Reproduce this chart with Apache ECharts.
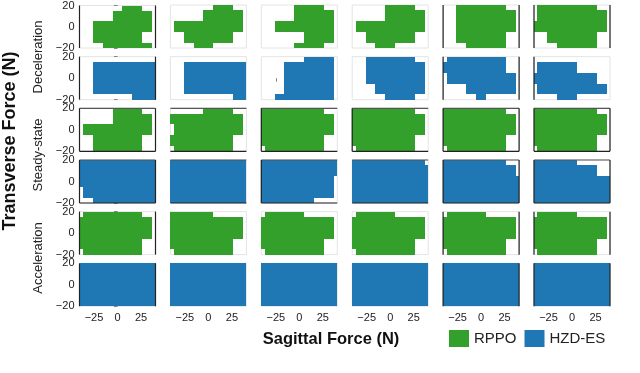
<!DOCTYPE html>
<html>
<head>
<meta charset="utf-8">
<script src="https://cdn.jsdelivr.net/npm/echarts@6/dist/echarts.min.js"></script>
<style>
  html, body { margin: 0; padding: 0; background: #fff; }
  #main { width: 640px; height: 373px; }
</style>
</head>
<body>
<div id="main"></div>
<script>
// force grid (N): cell centres, cell size, axis limits
var xCenters = [-42, -31.5, -21, -10.5, 0, 10.5, 21, 31.5, 42];
var yCenters = [20, 10, 0, -10, -20];
var cellW = 10.5, cellH = 10;
var xLim = [-40.4, 40.4], yLim = [-20, 20];
var xTicks = [-25, 0, 25];
var yTicks = [-20, 0, 20];
var rowNames = ['Deceleration', 'Steady-state', 'Acceleration'];

// stable region per panel, one string per y row (20 .. -20), one char per x cell
var decelRPPO = [
  ['000001100', '000011110', '001111110', '001111100', '000111110'],
  ['000001100', '000011110', '011111110', '001111100', '000110000'],
  ['000011100', '000011110', '001111110', '000001110', '000011100'],
  ['000011100', '000011110', '011111110', '001111100', '000110000'],
  ['001111100', '001111110', '001111110', '001111100', '000111100'],
  ['011111100', '011111110', '111111110', '001111100', '000111100']
];
var decelHZD = [
  ['000000000', '001111111', '001111111', '001111111', '000000111'],
  ['000000000', '001111111', '001111111', '001111111', '000000011'],
  ['000001110', '000111110', '000111110', '000111110', '001111110'],
  ['001111100', '001111110', '001111110', '000111110', '000011100'],
  ['011111100', '111111100', '011111110', '000111110', '000010000'],
  ['000000000', '011110000', '111111100', '011111110', '000110000']
];
var steadyRPPO = [
  ['000011100', '000011110', '011111110', '001111100', '001111100'],
  ['000011100', '111111110', '011111110', '111111100', '011111100'],
  ['111111100', '111111110', '111111110', '111111100', '011111100'],
  ['111111100', '111111110', '111111110', '111111100', '011111100'],
  ['111111100', '111111110', '111111110', '111111100', '011111100'],
  ['111111100', '111111110', '111111110', '111111100', '011111100']
];
var steadyHZD = [
  ['111111111', '111111111', '111111111', '011111111', '001111111'],
  ['111111111', '111111111', '111111111', '111111111', '111111111'],
  ['111111111', '111111111', '111111110', '111111110', '111111000'],
  ['111111110', '111111111', '111111111', '111111111', '111111111'],
  ['111111100', '111111110', '111111111', '111111111', '111111111'],
  ['111110000', '111111100', '111111111', '111111111', '111111111']
];
var accelRPPO = [
  ['011111100', '111111110', '111111110', '111111100', '011111100'],
  ['111110000', '111111110', '111111110', '111111100', '011111100'],
  ['011110000', '111111110', '111111110', '111111100', '011111100'],
  ['011110000', '111111110', '111111110', '111111100', '011111100'],
  ['011110000', '111111110', '111111110', '111111100', '011111100'],
  ['011110000', '111111110', '111111110', '111111100', '011111100']
];
var accelHZD = [
  ['111111111', '111111111', '111111111', '111111111', '111111111'],
  ['111111111', '111111111', '111111111', '111111111', '111111111'],
  ['111111111', '111111111', '111111111', '111111111', '111111111'],
  ['111111111', '111111111', '111111111', '111111111', '111111111'],
  ['111111111', '111111111', '111111111', '111111111', '111111111'],
  ['111111111', '111111111', '111111111', '111111111', '111111111']
];

var panelRows = [
  { name: 'RPPO', masks: decelRPPO },
  { name: 'HZD-ES', masks: decelHZD },
  { name: 'RPPO', masks: steadyRPPO },
  { name: 'HZD-ES', masks: steadyHZD },
  { name: 'RPPO', masks: accelRPPO },
  { name: 'HZD-ES', masks: accelHZD }
];
// dark frame sides drawn on some panels (T R B L)
var darkSides = [
  ['LR', '', '', '', 'LR', 'LR'],
  ['LR', '', '', '', 'LR', 'L'],
  ['TRBL', 'TB', 'TBL', 'TBL', 'TRBL', 'TRBL'],
  ['TRBL', 'TB', 'TBL', 'TB', 'TRBL', 'TRBL'],
  ['LR', '', '', '', 'LR', 'LR'],
  ['LR', '', '', '', 'LR', 'LR']
];
var colors = { 'RPPO': '#33a02c', 'HZD-ES': '#1f78b4' };
var FONT = 'Liberation Sans';

function toRuns(mask) {
  var out = [];
  mask.forEach(function (row, j) {
    var y0 = Math.max(yCenters[j] - cellH / 2, yLim[0]);
    var y1 = Math.min(yCenters[j] + cellH / 2, yLim[1]);
    var i = 0;
    while (i < row.length) {
      if (row[i] === '1') {
        var s = i;
        while (i < row.length && row[i] === '1') i++;
        out.push([Math.max(xCenters[s] - cellW / 2, xLim[0]),
                  Math.min(xCenters[i - 1] + cellW / 2, xLim[1]), y0, y1]);
      } else {
        i++;
      }
    }
  });
  return out;
}

function fmt(v) {
  return v < 0 ? '\u2212' + Math.abs(v) : String(v);
}

var grids = [], xAxes = [], yAxes = [], series = [];
for (var r = 0; r < 6; r++) {
  for (var c = 0; c < 6; c++) {
    var k = r * 6 + c;
    grids.push({
      left: 79.5 + c * 90.9, top: 5 + r * 51.66, width: 76, height: 43,
      show: true, borderColor: '#e4e4e4', borderWidth: 1, backgroundColor: 'transparent'
    });
    xAxes.push({
      gridIndex: k, type: 'value', min: xLim[0], max: xLim[1],
      splitLine: { show: false }, axisLine: { show: false },
      axisTick: { show: true, customValues: xTicks, length: 3.5, lineStyle: { color: '#666', width: 0.8 } },
      axisLabel: { show: r === 5, customValues: xTicks, formatter: fmt, margin: 6,
        fontFamily: FONT, fontSize: 11, color: '#222' }
    });
    yAxes.push({
      gridIndex: k, type: 'value', min: yLim[0], max: yLim[1],
      splitLine: { show: false }, axisLine: { show: false },
      axisTick: { show: true, customValues: c === 0 ? yTicks : [0], length: 3.5, lineStyle: { color: '#666', width: 0.8 } },
      axisLabel: { show: c === 0, customValues: yTicks, formatter: fmt, margin: 5,
        fontFamily: FONT, fontSize: 11, color: '#222' }
    });
    var col = colors[panelRows[r].name];
    series.push({
      type: 'custom', name: panelRows[r].name, xAxisIndex: k, yAxisIndex: k,
      itemStyle: { color: col },
      encode: { x: [0, 1], y: [2, 3] },
      data: toRuns(panelRows[r].masks[c]),
      renderItem: (function (col) {
        return function (params, api) {
          var a = api.coord([api.value(0), api.value(3)]);
          var b = api.coord([api.value(1), api.value(2)]);
          var x0 = Math.round(a[0]), y0 = Math.round(a[1]);
          var x1 = Math.round(b[0]), y1 = Math.round(b[1]);
          return {
            type: 'rect',
            shape: { x: x0, y: y0, width: x1 - x0, height: y1 - y0 },
            style: { fill: col }
          };
        };
      })(col)
    });
    series.push({
      type: 'custom', name: 'frame', xAxisIndex: k, yAxisIndex: k, silent: true, z: 5,
      data: [[0, 0]],
      renderItem: (function (sides) {
        return function (params, api) {
          var cs = params.coordSys;
          var x0 = cs.x, x1 = cs.x + cs.width, y0 = cs.y, y1 = cs.y + cs.height;
          var segs = { T: [x0, y0, x1, y0], R: [x1, y0, x1, y1], B: [x0, y1, x1, y1], L: [x0, y0, x0, y1] };
          var children = sides.split('').map(function (s) {
            var p = segs[s];
            return { type: 'line', shape: { x1: p[0], y1: p[1], x2: p[2], y2: p[3] },
              style: { stroke: s === 'T' ? '#555' : '#222', lineWidth: 1.2 } };
          });
          return { type: 'group', children: children };
        };
      })(darkSides[r][c])
    });
  }
}

var graphics = [
  { type: 'text', x: 10, y: 141, rotation: Math.PI / 2,
    style: { text: 'Transverse Force (N)', fontFamily: FONT, fontWeight: 'bold', fontSize: 18,
      fill: '#111', align: 'center', verticalAlign: 'middle' } },
  { type: 'text', x: 331, y: 339,
    style: { text: 'Sagittal Force (N)', fontFamily: FONT, fontWeight: 'bold', fontSize: 16.5,
      fill: '#111', align: 'center', verticalAlign: 'middle' } }
];
var rowLabelY = [57, 155, 258];
rowNames.forEach(function (t, i) {
  graphics.push({ type: 'text', x: 38, y: rowLabelY[i], rotation: Math.PI / 2,
    style: { text: t, fontFamily: FONT, fontSize: 13, fill: '#222', align: 'center', verticalAlign: 'middle' } });
});

var chart = echarts.init(document.getElementById('main'), null, { renderer: 'canvas' });
chart.setOption({
  animation: false,
  backgroundColor: '#fff',
  grid: grids,
  xAxis: xAxes,
  yAxis: yAxes,
  series: series,
  legend: {
    data: [{ name: 'RPPO', icon: 'rect' }, { name: 'HZD-ES', icon: 'rect' }],
    left: 449, top: 330, padding: 0, itemWidth: 20, itemHeight: 17, itemGap: 8,
    textStyle: { fontFamily: FONT, fontSize: 15, color: '#222' }
  },
  graphic: graphics
});
</script>
</body>
</html>
